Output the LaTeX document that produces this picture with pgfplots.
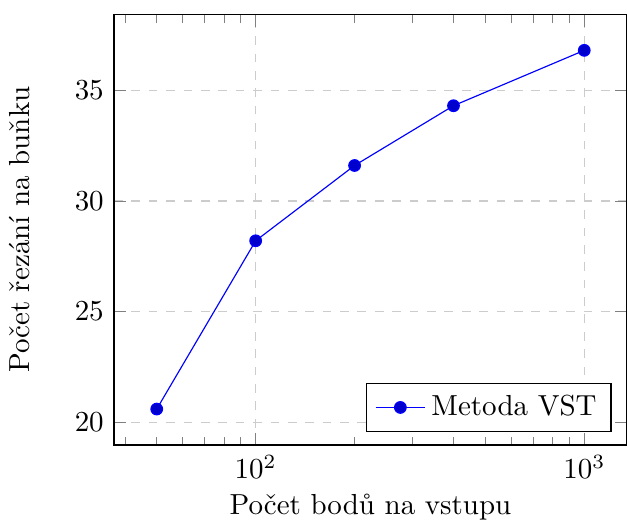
\documentclass[border=0pt]{standalone}
\usepackage{pgfplots}
\pgfplotsset{compat=1.18}
\begin{document}
\begin{tikzpicture}[trim axis right]
\begin{semilogxaxis}[
  scale only axis,
  width=177pt, height=148.5pt,
  xlabel={Počet bodů na vstupu},
  ylabel={Počet řezání na buňku},
  ylabel shift=8.5pt,
  xlabel shift=-1.5pt,
  grid=major,
  major grid style={dashed, gray!40},
  legend pos=south east,
  ytick={20,25,30,35},
]
\addplot+[] coordinates {(50,20.6) (100,28.2) (200,31.6) (400,34.3) (1000,36.8)};
\addlegendentry{Metoda VST}
\end{semilogxaxis}
\path ([yshift=5pt]current axis.north);
\end{tikzpicture}
\end{document}
